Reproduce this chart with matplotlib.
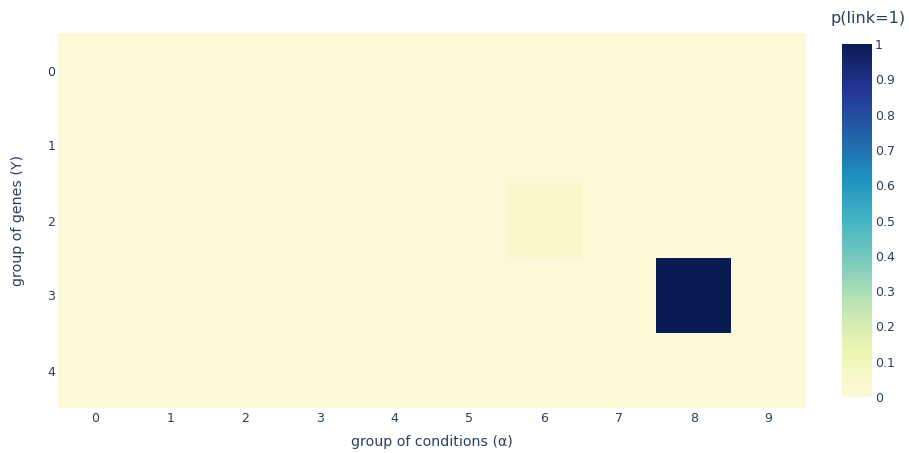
import numpy as np
import matplotlib
matplotlib.use("Agg")
import matplotlib.pyplot as plt
from matplotlib.colors import LinearSegmentedColormap

# link probabilities: rows = gene groups (Y), columns = condition groups (α)
gene_groups = [0, 1, 2, 3, 4]
condition_groups = [0, 1, 2, 3, 4, 5, 6, 7, 8, 9]
row0 = [0, 0, 0, 0, 0, 0, 0.006, 0, 0, 0]
row1 = [0, 0, 0, 0, 0, 0, 0.003, 0, 0, 0]
row2 = [0, 0, 0, 0, 0, 0, 0.05, 0, 0, 0]
row3 = [0, 0, 0, 0, 0, 0, 0, 0, 1.0, 0]
row4 = [0, 0, 0, 0, 0, 0, 0, 0, 0, 0]
cbar_ticks = [0, 0.1, 0.2, 0.3, 0.4, 0.5, 0.6, 0.7, 0.8, 0.9, 1]
cbar_labels = ["0", "0.1", "0.2", "0.3", "0.4", "0.5", "0.6", "0.7", "0.8", "0.9", "1"]

Z = np.array([row0, row1, row2, row3, row4])

ylgnbu = LinearSegmentedColormap.from_list("ylgnbu", [
    "#fdf8d8", "#eef6b2", "#c5e6b4", "#80ccbb", "#43b4c4",
    "#1e90c0", "#235ea7", "#253494", "#0a1c54"])

text_color = "#2a3f5f"
plt.rcParams["font.family"] = ["DejaVu Sans"]

W, H = 909, 453
fig = plt.figure(figsize=(W / 100, H / 100), dpi=100)
fig.patch.set_facecolor("white")

ax = fig.add_axes([58 / W, (H - 408) / H, 748 / W, 375 / H])
mesh = ax.pcolormesh(np.arange(len(condition_groups) + 1) - 0.5,
                     np.arange(len(gene_groups) + 1) - 0.5,
                     Z, cmap=ylgnbu, vmin=0, vmax=1, shading="flat")
ax.set_xlim(-0.5, len(condition_groups) - 0.5)
ax.set_ylim(len(gene_groups) - 0.5, -0.5)
ax.set_xticks(condition_groups)
ax.set_xticklabels([str(c) for c in condition_groups])
ax.set_yticks(gene_groups)
ax.set_yticklabels([str(g) for g in gene_groups])
ax.tick_params(axis="x", length=0, labelsize=9, colors=text_color, pad=3)
ax.tick_params(axis="y", length=0, labelsize=9, colors=text_color, pad=2)
for s in ax.spines.values():
    s.set_visible(False)
ax.set_xlabel("group of conditions (α)", fontsize=10.2, color=text_color, labelpad=7)
ax.set_ylabel("group of genes (Y)", fontsize=10.2, color=text_color, labelpad=16)

cax = fig.add_axes([842 / W, (H - 397) / H, 30 / W, 353 / H])
cb = fig.colorbar(mesh, cax=cax)
cb.outline.set_visible(False)
cb.set_ticks(cbar_ticks)
cb.set_ticklabels(cbar_labels)
cax.tick_params(length=0, labelsize=9, colors=text_color, pad=2)
fig.text(868 / W, 1 - 18 / H, "p(link=1)", fontsize=11.5, color=text_color,
         ha="center", va="center")

fig.savefig("out.png", dpi=100)
